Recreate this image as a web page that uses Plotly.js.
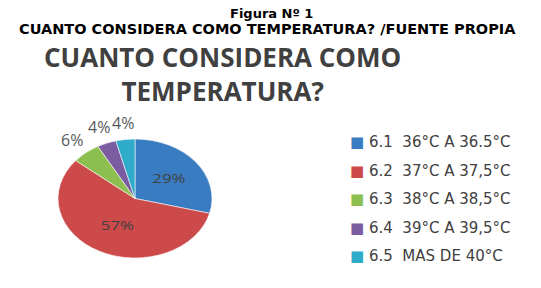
<!DOCTYPE html>
<html><head><meta charset="utf-8">
<script src="https://cdn.plot.ly/plotly-3.0.1.min.js"></script>
<style>html,body{margin:0;padding:0;background:#fff;}</style>
</head><body>
<div id="chart" style="width:541px;height:288px;"></div>
<script>
const categories = ["6.1\u00a0\u00a036°C A 36.5°C","6.2\u00a0\u00a037°C A 37,5°C","6.3\u00a0\u00a038°C A 38,5°C","6.4\u00a0\u00a039°C A 39,5°C","6.5\u00a0\u00a0MAS DE 40°C"];
const values = [29, 57, 6, 4, 4];
const colors = ["#3A7CC2","#CD4A4A","#8CBF4F","#7C5CA1","#2EABC8"];
const positions = ["inside","inside","outside","outside","outside"];
const headerText = "<b>Figura Nº 1</b>";
const subText = "<b>CUANTO CONSIDERA COMO TEMPERATURA? /FUENTE PROPIA</b>";
const titleText = "<b>CUANTO CONSIDERA COMO</b><br><b>TEMPERATURA?</b>";

const W = 541, H = 288;
const cx = 135, cy = 198.5, ry = 59.5, rx = 77;

const trace = {
  type: "pie",
  labels: categories,
  values: values,
  sort: false,
  direction: "clockwise",
  rotation: 0,
  marker: {colors: colors, line: {color: "#ffffff", width: 0.5}},
  texttemplate: "%{value}%",
  textposition: positions.map(p => p === "inside" ? "inside" : "none"),
  insidetextfont: {family: "Open Sans, sans-serif", size: 13, color: "#404040"},
  hoverinfo: "label+percent",
  domain: {x: [(cx - ry) / W, (cx + ry) / W], y: [1 - (cy + ry) / H, 1 - (cy - ry) / H]},
  showlegend: false
};

const ann = [
  {text: headerText, x: 271/W, y: 1 - 13.5/H, font: {family: "DejaVu Sans, sans-serif", size: 13, color: "#000"}},
  {text: subText, x: 267/W, y: 1 - 29/H, font: {family: "DejaVu Sans, sans-serif", size: 14.5, color: "#000"}},
  {text: titleText, x: 222/W, y: 1 - 74/H, font: {family: "Open Sans, sans-serif", size: 26, color: "#404040"}}
];

// outside percentage labels, placed radially from the slice mid-angle
const total = values.reduce((a, b) => a + b, 0);
let cum = 0;
values.forEach((v, i) => {
  const mid = (cum + v / 2) / total * 2 * Math.PI;
  cum += v;
  if (positions[i] !== "outside") return;
  const px = cx + (rx + 22) * Math.sin(mid);
  const py = cy - (ry + 17) * Math.cos(mid);
  ann.push({text: v + "%", x: px / W, y: 1 - py / H,
    font: {family: "Open Sans, sans-serif", size: 16, color: "#595959"}});
});

// legend
categories.forEach((c, i) => {
  ann.push({text: '<span style="color:' + colors[i] + '">■</span>\u00a0' + c,
    x: 348/W, y: 1 - (142 + i * 28.6)/H, xanchor: "left",
    font: {family: "DejaVu Sans, sans-serif", size: 15, color: "#404040"}});
});

ann.forEach(a => {
  a.xref = "paper"; a.yref = "paper"; a.showarrow = false;
  if (!a.xanchor) a.xanchor = "center";
  a.yanchor = "middle";
});

const layout = {
  width: W, height: H,
  margin: {l: 0, r: 0, t: 0, b: 0},
  paper_bgcolor: "#ffffff",
  showlegend: false,
  annotations: ann
};

Plotly.newPlot("chart", [trace], layout, {displayModeBar: false, staticPlot: true}).then(function(gd){
  const pl = gd.querySelector(".pielayer");
  if (pl) {
    const s = rx / ry;
    pl.setAttribute("transform", "translate(" + cx + ",0) scale(" + s + ",1) translate(" + (-cx) + ",0)");
  }
});
</script>
</body></html>
